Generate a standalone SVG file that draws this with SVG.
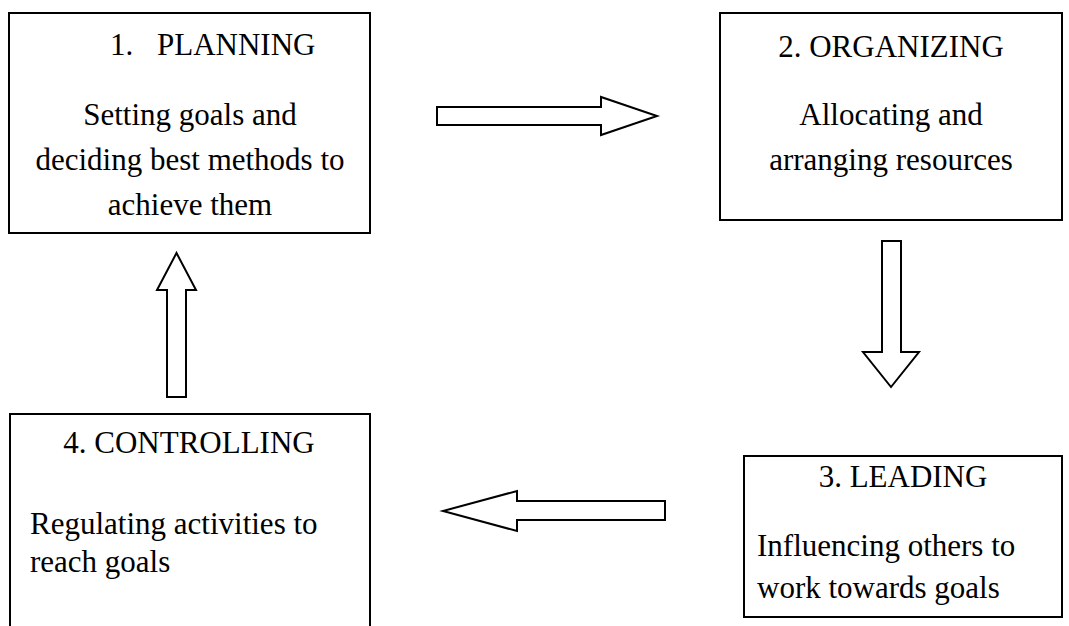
<svg xmlns="http://www.w3.org/2000/svg" width="1069" height="626" viewBox="0 0 1069 626">
<style>
.box{fill:#fff;stroke:#000;stroke-width:2}
.arr{fill:#fff;stroke:#000;stroke-width:2;stroke-linejoin:miter}
text{font-family:"Liberation Serif","Times New Roman",serif;font-size:31px;fill:#000}
.c{text-anchor:middle}
</style>
<rect width="1069" height="626" fill="#fff"/>
<g id="connectors">
<polygon class="arr" points="437,107 601,107 601,97 657,116 601,135 601,125 437,125"/>
<polygon class="arr" points="882,241 901,241 901,352 919,352 891,387 863,352 882,352"/>
<polygon class="arr" points="665,501 665,520 517,520 517,531 443,511 517,491 517,501"/>
<polygon class="arr" points="167,397 186,397 186,290 196,290 176.5,253 157,290 167,290"/>
</g>
<g id="node-planning">
<rect class="box" x="9" y="13" width="361" height="220"/>
<text y="55"><tspan x="110">1.</tspan><tspan x="157">PLANNING</tspan></text>
<text class="c" x="190" y="125">Setting goals and</text>
<text class="c" x="190" y="170">deciding best methods to</text>
<text class="c" x="190" y="215">achieve them</text>
</g>
<g id="node-organizing">
<rect class="box" x="720" y="13" width="342" height="207"/>
<text class="c" x="891" y="57">2. ORGANIZING</text>
<text class="c" x="891" y="125">Allocating and</text>
<text class="c" x="891" y="170">arranging resources</text>
</g>
<g id="node-leading">
<rect class="box" x="744" y="456" width="318" height="161"/>
<text class="c" x="903" y="487">3. LEADING</text>
<text x="757" y="556">Influencing others to</text>
<text x="757" y="598">work towards goals</text>
</g>
<g id="node-controlling">
<path class="box" d="M10,627 V414 H370 V627"/>
<text class="c" x="189" y="453">4. CONTROLLING</text>
<text x="30" y="534">Regulating activities to</text>
<text x="30" y="572">reach goals</text>
</g>
</svg>
